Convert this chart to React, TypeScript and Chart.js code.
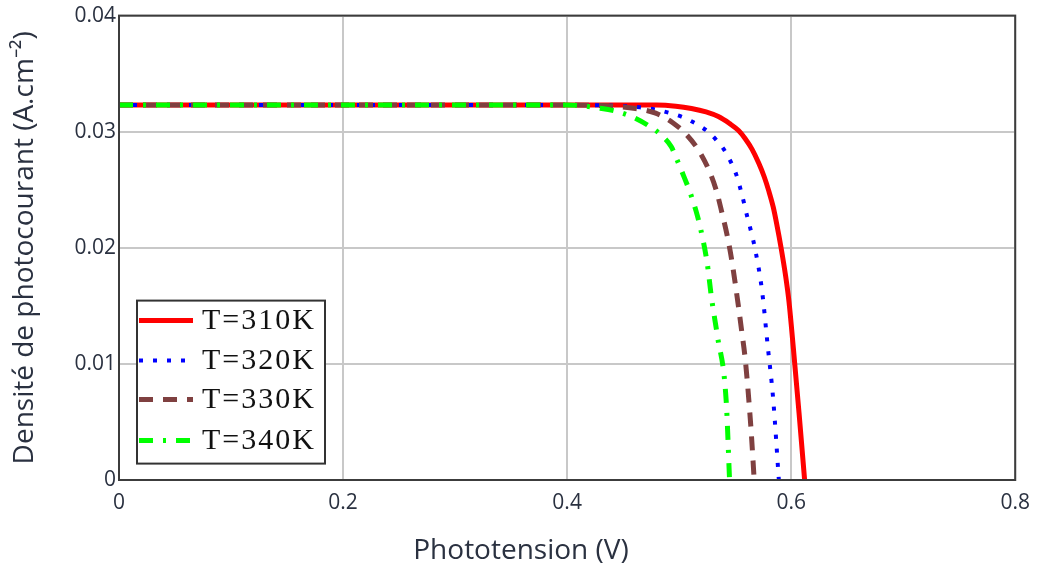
import React, { useEffect, useRef } from "react";
import { Chart, registerables } from "chart.js";

Chart.register(...registerables);

const xTickLabels = ["0", "0.2", "0.4", "0.6", "0.8"];
const yTickLabels = ["0", "0.01", "0.02", "0.03", "0.04"];
const seriesLabels = ["T=310K", "T=320K", "T=330K", "T=340K"];
const xTitle = "Phototension (V)";
const yTitle = "Densité de photocourant (A.cm⁻²)";

const v310 = [0, 0.1, 0.2, 0.3, 0.4, 0.45, 0.48, 0.497, 0.511, 0.524, 0.535, 0.545, 0.553, 0.559, 0.565, 0.571, 0.576, 0.58, 0.584, 0.587, 0.591, 0.595, 0.598, 0.602, 0.607, 0.612];
const j310 = [0.0323, 0.0323, 0.0323, 0.0323, 0.0323, 0.0323, 0.0323, 0.0322, 0.032, 0.0317, 0.0313, 0.0307, 0.0301, 0.0294, 0.0285, 0.0273, 0.0261, 0.0249, 0.0235, 0.0221, 0.02, 0.0176, 0.0154, 0.0113, 0.0058, 0];

const v320 = [0, 0.1, 0.2, 0.3, 0.4, 0.45, 0.465, 0.479, 0.492, 0.502, 0.511, 0.52, 0.527, 0.533, 0.539, 0.544, 0.551, 0.556, 0.561, 0.565, 0.568, 0.574, 0.579, 0.584, 0.589];
const j320 = [0.0323, 0.0323, 0.0323, 0.0323, 0.0323, 0.0322, 0.0321, 0.0319, 0.0316, 0.0313, 0.0309, 0.0304, 0.0299, 0.0293, 0.0286, 0.0278, 0.0263, 0.0246, 0.0226, 0.0211, 0.0198, 0.0163, 0.0116, 0.0069, 0];

const v330 = [0, 0.1, 0.2, 0.3, 0.4, 0.44, 0.461, 0.479, 0.494, 0.507, 0.518, 0.527, 0.533, 0.538, 0.543, 0.547, 0.553, 0.556, 0.559, 0.564, 0.567];
const j330 = [0.0323, 0.0323, 0.0323, 0.0323, 0.0323, 0.0322, 0.032, 0.0316, 0.0308, 0.0297, 0.0283, 0.0266, 0.025, 0.0231, 0.021, 0.0189, 0.0149, 0.0127, 0.0104, 0.0046, 0];

const v340 = [0, 0.1, 0.2, 0.3, 0.4, 0.431, 0.446, 0.46, 0.473, 0.484, 0.493, 0.498, 0.504, 0.51, 0.515, 0.519, 0.525, 0.529, 0.534, 0.542, 0.545];
const j340 = [0.0323, 0.0323, 0.0323, 0.0323, 0.0323, 0.032, 0.0317, 0.0312, 0.0305, 0.0297, 0.0287, 0.0276, 0.0262, 0.0247, 0.0232, 0.0217, 0.0187, 0.0156, 0.0125, 0.0068, 0];

const toPoints = (xs: number[], ys: number[]) => xs.map((x, i) => ({ x, y: ys[i] }));

const TEXT_COLOR = "#2a3140";
const SANS = "'Open Sans', sans-serif";

const borderPlugin = {
  id: "plotBorder",
  afterDatasetsDraw(chart: any) {
    const { ctx, chartArea } = chart;
    ctx.save();
    ctx.strokeStyle = "#3c3c3c";
    ctx.lineWidth = 2;
    ctx.strokeRect(chartArea.left, chartArea.top, chartArea.right - chartArea.left, chartArea.bottom - chartArea.top);
    ctx.restore();
  },
};

const xTitlePlugin = {
  id: "xTitleCentered",
  afterDraw(chart: any) {
    const { ctx, width, height } = chart;
    ctx.save();
    ctx.fillStyle = TEXT_COLOR;
    ctx.font = `28px ${SANS}`;
    ctx.textAlign = "center";
    ctx.textBaseline = "middle";
    ctx.fillText(xTitle, width / 2 + 1, height - 16);
    ctx.restore();
  },
};

const legendPlugin = {
  id: "boxLegend",
  afterDraw(chart: any) {
    const { ctx, chartArea } = chart;
    const bx = chartArea.left + 18;
    const by = chartArea.top + 285;
    const bw = 188;
    const bh = 163;
    ctx.save();
    ctx.fillStyle = "#ffffff";
    ctx.fillRect(bx, by, bw, bh);
    ctx.strokeStyle = "#333333";
    ctx.lineWidth = 2;
    ctx.strokeRect(bx, by, bw, bh);
    const rows = [20, 60, 99, 140];
    chart.data.datasets.forEach((ds: any, i: number) => {
      const y = by + rows[i];
      ctx.save();
      ctx.strokeStyle = ds.borderColor;
      ctx.lineWidth = ds.borderWidth;
      ctx.setLineDash(ds.borderDash || []);
      ctx.lineCap = "butt";
      ctx.beginPath();
      ctx.moveTo(bx + 2, y);
      ctx.lineTo(bx + 56, y);
      ctx.stroke();
      ctx.restore();
      ctx.save();
      ctx.fillStyle = "#111111";
      ctx.font = "30px 'Liberation Serif', serif";
      (ctx as any).letterSpacing = "2px";
      ctx.textBaseline = "middle";
      ctx.textAlign = "left";
      ctx.fillText(ds.label, bx + 65, y + 1);
      ctx.restore();
    });
    ctx.restore();
  },
};

export default function App() {
  const ref = useRef<HTMLCanvasElement | null>(null);

  useEffect(() => {
    if (!ref.current) return;
    const chart = new Chart(ref.current, {
      type: "line",
      data: {
        datasets: [
          {
            label: seriesLabels[0],
            data: toPoints(v310, j310),
            borderColor: "#ff0000",
            borderWidth: 5,
            pointRadius: 0,
            cubicInterpolationMode: "monotone",
            order: 4,
          },
          {
            label: seriesLabels[1],
            data: toPoints(v320, j320),
            borderColor: "#0000ff",
            borderWidth: 4,
            borderDash: [4, 10],
            pointRadius: 0,
            cubicInterpolationMode: "monotone",
            order: 3,
          },
          {
            label: seriesLabels[2],
            data: toPoints(v330, j330),
            borderColor: "#7f4040",
            borderWidth: 5,
            borderDash: [14, 10],
            pointRadius: 0,
            cubicInterpolationMode: "monotone",
            order: 2,
          },
          {
            label: seriesLabels[3],
            data: toPoints(v340, j340),
            borderColor: "#00ff00",
            borderWidth: 5,
            borderDash: [14, 10, 3, 10],
            pointRadius: 0,
            cubicInterpolationMode: "monotone",
            order: 1,
          },
        ] as any,
      },
      options: {
        animation: false,
        responsive: true,
        maintainAspectRatio: false,
        layout: { padding: { top: 15, right: 23, left: 0, bottom: 0 } },
        plugins: { legend: { display: false }, tooltip: { enabled: false } },
        scales: {
          x: {
            type: "linear",
            min: 0,
            max: 0.8,
            afterFit: (s: any) => {
              s.height = 87;
            },
            ticks: {
              stepSize: 0.2,
              padding: 10,
              color: TEXT_COLOR,
              font: { family: SANS, size: 21 },
              callback: (v: any) => xTickLabels[Math.round(Number(v) / 0.2)] ?? "",
            },
            grid: { color: "#c8c8c8", lineWidth: 2, drawTicks: false },
            border: { display: false },
            title: { display: false },
          },
          y: {
            type: "linear",
            min: 0,
            max: 0.04,
            afterFit: (s: any) => {
              s.width = 119;
            },
            ticks: {
              stepSize: 0.01,
              padding: 3,
              color: TEXT_COLOR,
              font: { family: SANS, size: 21 },
              callback: (v: any) => yTickLabels[Math.round(Number(v) / 0.01)] ?? "",
            },
            grid: { color: "#c8c8c8", lineWidth: 2, drawTicks: false },
            border: { display: false },
            title: {
              display: true,
              text: yTitle,
              color: TEXT_COLOR,
              font: { family: SANS, size: 28 },
              padding: { top: 8, bottom: 0 },
            },
          },
        },
      },
      plugins: [borderPlugin, legendPlugin, xTitlePlugin],
    });
    return () => chart.destroy();
  }, []);

  return (
    <div style={{ position: "fixed", left: 0, top: 0, width: 1040, height: 567, background: "#fff" }}>
      <canvas ref={ref} />
    </div>
  );
}
